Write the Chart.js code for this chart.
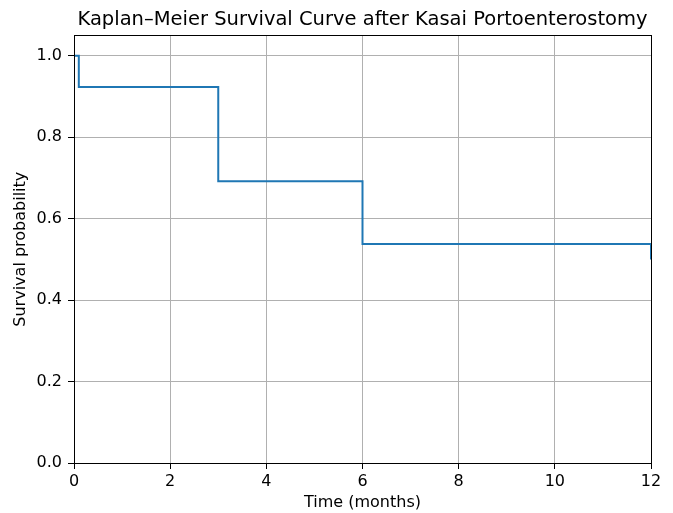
<!DOCTYPE html>
<html><head><meta charset="utf-8">
<script src="https://cdn.jsdelivr.net/npm/chart.js@4"></script>
<style>html,body{margin:0;padding:0;background:#fff}#wrap{width:673px;height:513px}</style>
</head><body><div id="wrap"><canvas id="c" width="673" height="513"></canvas></div>
<script>
const times = [0, 0.1, 3, 6, 12];
const survival = [1.0, 0.923, 0.692, 0.538, 0.5];
const xTicks = [0, 2, 4, 6, 8, 10, 12];
const yTicks = [0.0, 0.2, 0.4, 0.6, 0.8, 1.0];
const titleText = 'Kaplan–Meier Survival Curve after Kasai Portoenterostomy';

const FONT = 'DejaVu Sans';
const frame = {
  id: 'frame',
  afterDraw(chart) {
    const a = chart.chartArea, ctx = chart.ctx;
    ctx.save();
    ctx.strokeStyle = '#000'; ctx.lineWidth = 1;
    ctx.strokeRect(Math.round(a.left)+0.5, Math.round(a.top)+0.5, Math.round(a.right-a.left), Math.round(a.bottom-a.top));
    ctx.restore();
  }
};
new Chart(document.getElementById('c'), {
  type: 'line',
  data: { datasets: [{
    data: times.map((t, i) => ({x: t, y: survival[i]})),
    borderColor: '#1f77b4', borderWidth: 2, pointRadius: 0, stepped: 'before', fill: false
  }]},
  options: {
    responsive: false, animation: false, devicePixelRatio: 1,
    layout: { padding: { left: 0, right: 22, top: 0, bottom: 0 } },
    plugins: {
      legend: { display: false }, tooltip: { enabled: false },
      title: { display: true, fullSize: false, text: titleText, color: '#000', font: { family: FONT, size: 19.5, weight: 'normal' }, padding: { top: 8, bottom: 4 } }
    },
    scales: {
      x: {
        type: 'linear', min: 0, max: 12,
        afterBuildTicks: s => { s.ticks = xTicks.map(v => ({value: v})); },
        afterFit: s => { s.height = 50; },
        ticks: { color: '#000', font: { family: FONT, size: 16 }, padding: 3, maxRotation: 0, callback: v => String(v) },
        grid: { color: '#b0b0b0', lineWidth: 1, tickColor: '#000', tickLength: 6 },
        border: { color: '#000', width: 1 },
        title: { display: true, text: 'Time (months)', color: '#000', font: { family: FONT, size: 16 }, padding: { top: 0, bottom: 0.5 } }
      },
      y: {
        type: 'linear', min: 0, max: 1.05,
        afterBuildTicks: s => { s.ticks = yTicks.map(v => ({value: v})); },
        afterFit: s => { s.width = 74; },
        ticks: { color: '#000', font: { family: FONT, size: 16 }, padding: 6, callback: v => Number(v).toFixed(1) },
        grid: { color: '#b0b0b0', lineWidth: 1, tickColor: '#000', tickLength: 6 },
        border: { color: '#000', width: 1 },
        title: { display: true, text: 'Survival probability', color: '#000', font: { family: FONT, size: 16 }, padding: { top: 11.5, bottom: 0 } }
      }
    }
  },
  plugins: [frame]
});
</script></body></html>
